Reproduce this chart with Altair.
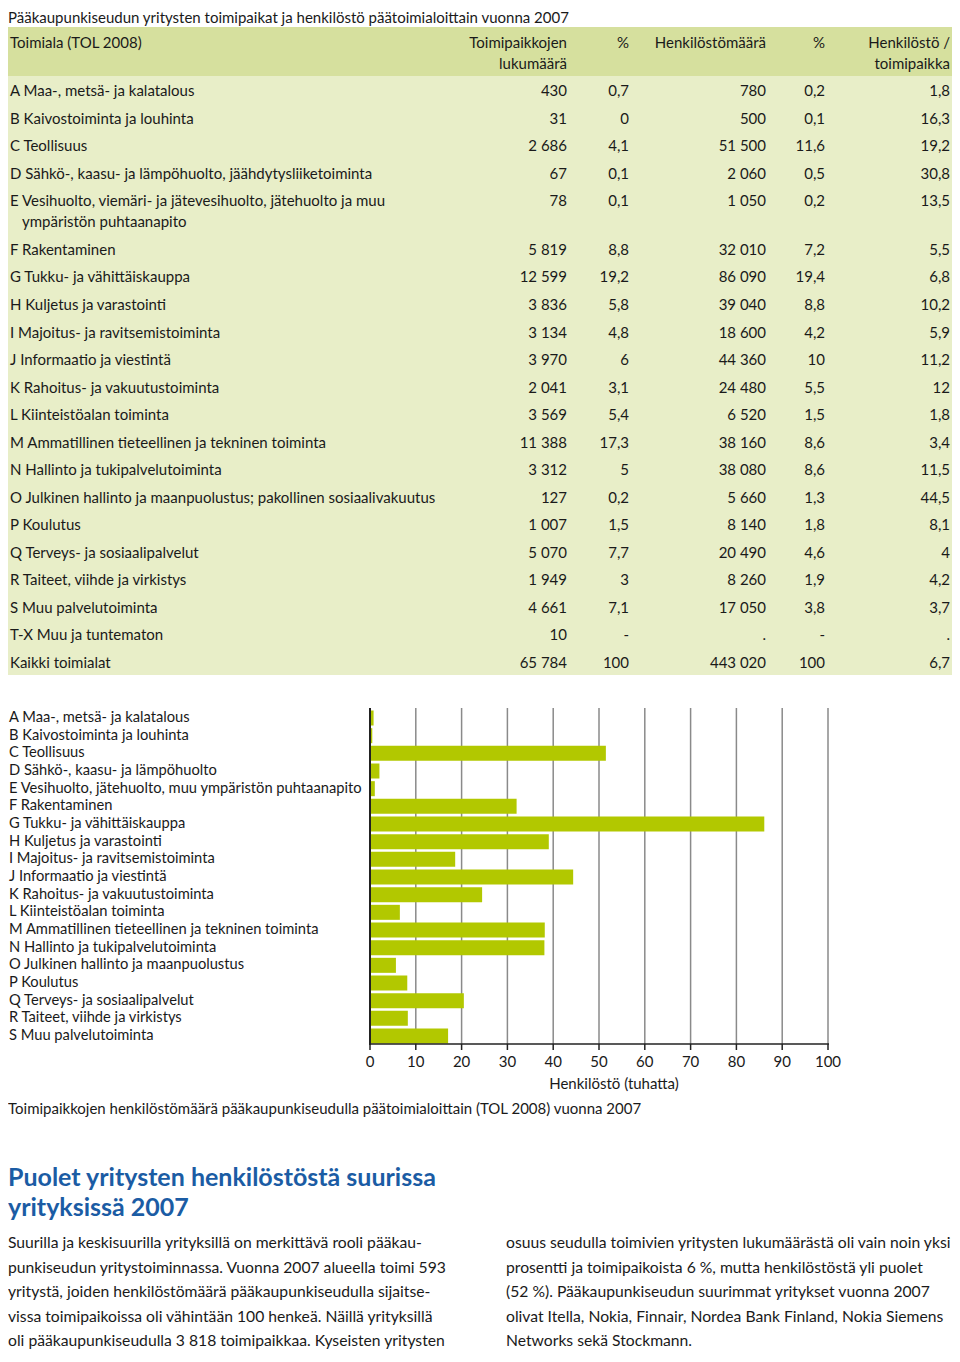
import altair as alt
import pandas as pd

# ---------------- data ----------------
title_text = "Pääkaupunkiseudun yritysten toimipaikat ja henkilöstö päätoimialoittain vuonna 2007"
header_labels = ["Toimiala (TOL 2008)", "Toimipaikkojen\nlukumäärä", "%",
                 "Henkilöstömäärä", "%", "Henkilöstö /\ntoimipaikka"]

table_categories = [
    "A Maa-, metsä- ja kalatalous",
    "B Kaivostoiminta ja louhinta",
    "C Teollisuus",
    "D Sähkö-, kaasu- ja lämpöhuolto, jäähdytysliiketoiminta",
    "E Vesihuolto, viemäri- ja jätevesihuolto, jätehuolto ja muu\nympäristön puhtaanapito",
    "F Rakentaminen",
    "G Tukku- ja vähittäiskauppa",
    "H Kuljetus ja varastointi",
    "I Majoitus- ja ravitsemistoiminta",
    "J Informaatio ja viestintä",
    "K Rahoitus- ja vakuutustoiminta",
    "L Kiinteistöalan toiminta",
    "M Ammatillinen tieteellinen ja tekninen toiminta",
    "N Hallinto ja tukipalvelutoiminta",
    "O Julkinen hallinto ja maanpuolustus; pakollinen sosiaalivakuutus",
    "P Koulutus",
    "Q Terveys- ja sosiaalipalvelut",
    "R Taiteet, viihde ja virkistys",
    "S Muu palvelutoiminta",
    "T-X Muu ja tuntematon",
    "Kaikki toimialat",
]
toimipaikat = [430, 31, 2686, 67, 78, 5819, 12599, 3836, 3134, 3970, 2041, 3569,
               11388, 3312, 127, 1007, 5070, 1949, 4661, 10, 65784]
toimipaikat_pct = [0.7, 0, 4.1, 0.1, 0.1, 8.8, 19.2, 5.8, 4.8, 6, 3.1, 5.4, 17.3, 5,
                   0.2, 1.5, 7.7, 3, 7.1, None, 100]
henkilosto = [780, 500, 51500, 2060, 1050, 32010, 86090, 39040, 18600, 44360, 24480,
              6520, 38160, 38080, 5660, 8140, 20490, 8260, 17050, None, 443020]
henkilosto_pct = [0.2, 0.1, 11.6, 0.5, 0.2, 7.2, 19.4, 8.8, 4.2, 10, 5.5, 1.5, 8.6,
                  8.6, 1.3, 1.8, 4.6, 1.9, 3.8, None, 100]
henk_per_toimipaikka = [1.8, 16.3, 19.2, 30.8, 13.5, 5.5, 6.8, 10.2, 5.9, 11.2, 12,
                        1.8, 3.4, 11.5, 44.5, 8.1, 4, 4.2, 3.7, None, 6.7]

bar_categories = [
    "A Maa-, metsä- ja kalatalous",
    "B Kaivostoiminta ja louhinta",
    "C Teollisuus",
    "D Sähkö-, kaasu- ja lämpöhuolto",
    "E Vesihuolto, jätehuolto, muu ympäristön puhtaanapito",
    "F Rakentaminen",
    "G Tukku- ja vähittäiskauppa",
    "H Kuljetus ja varastointi",
    "I Majoitus- ja ravitsemistoiminta",
    "J Informaatio ja viestintä",
    "K Rahoitus- ja vakuutustoiminta",
    "L Kiinteistöalan toiminta",
    "M Ammatillinen tieteellinen ja tekninen toiminta",
    "N Hallinto ja tukipalvelutoiminta",
    "O Julkinen hallinto ja maanpuolustus",
    "P Koulutus",
    "Q Terveys- ja sosiaalipalvelut",
    "R Taiteet, viihde ja virkistys",
    "S Muu palvelutoiminta",
]
x_ticks = [0, 10, 20, 30, 40, 50, 60, 70, 80, 90, 100]
x_title = "Henkilöstö (tuhatta)"
caption = "Toimipaikkojen henkilöstömäärä pääkaupunkiseudulla päätoimialoittain (TOL 2008) vuonna 2007"

heading_lines = ["Puolet yritysten henkilöstöstä suurissa", "yrityksissä 2007"]
para_left = [
    "Suurilla ja keskisuurilla yrityksillä on merkittävä rooli pääkau-",
    "punkiseudun yritystoiminnassa. Vuonna 2007 alueella toimi 593",
    "yritystä, joiden henkilöstömäärä pääkaupunkiseudulla sijaitse-",
    "vissa toimipaikoissa oli vähintään 100 henkeä. Näillä yrityksillä",
    "oli pääkaupunkiseudulla 3 818 toimipaikkaa. Kyseisten yritysten",
]
para_right = [
    "osuus seudulla toimivien yritysten lukumäärästä oli vain noin yksi",
    "prosentti ja toimipaikoista 6 %, mutta henkilöstöstä yli puolet",
    "(52 %). Pääkaupunkiseudun suurimmat yritykset vuonna 2007",
    "olivat Itella, Nokia, Finnair, Nordea Bank Finland, Nokia Siemens",
    "Networks sekä Stockmann.",
]

# ---------------- formatting helpers ----------------
def fmt_int(v, missing="."):
    if v is None:
        return missing
    return f"{int(v):,}".replace(",", " ")

def fmt_dec(v, missing="."):
    if v is None:
        return missing
    if float(v) == int(v):
        return str(int(v))
    return f"{v:.1f}".replace(".", ",")

WRAP = 0.77  # extra row slot taken by the wrapped line
slots, first_lines, cont_rows = [], [], []
extra = 0.0
for i, lab in enumerate(table_categories):
    parts = lab.split("\n")
    slots.append(i + extra)
    first_lines.append(parts[0])
    for k, p in enumerate(parts[1:], start=1):
        cont_rows.append({"slot": i + extra + WRAP * k, "label": p})
    extra += WRAP * (len(parts) - 1)

table_df = pd.DataFrame({
    "slot": slots,
    "label": first_lines,
    "c1": [fmt_int(v) for v in toimipaikat],
    "c2": [fmt_dec(v, "-") for v in toimipaikat_pct],
    "c3": [fmt_int(v, ".") for v in henkilosto],
    "c4": [fmt_dec(v, "-") for v in henkilosto_pct],
    "c5": [fmt_dec(v, ".") for v in henk_per_toimipaikka],
})
cont_df = pd.DataFrame(cont_rows)
bar_df = pd.DataFrame({"kat": bar_categories,
                       "henk": [v / 1000 for v in henkilosto[:len(bar_categories)]]})
tick_df = pd.DataFrame({"t": x_ticks})

# ---------------- style / layout ----------------
FONT = "Lato"
TXT = "#1a1a1a"
HEAD_BG = "#d6e09e"
BODY_BG = "#e8eec8"
BAR = "#b2c800"
FS = 15
W, H = 944, 1342
TOP = 7      # table block pushed down a little (page margin)

row_scale = alt.Scale(domain=[0, slots[-1]], range=[76 + TOP, 648 + TOP])
x_scale = alt.Scale(domain=[0, 100], range=[362, 820])
y_band = alt.Scale(domain=bar_categories, range=[701, 1037], paddingInner=0.15, paddingOuter=0.085)

one = pd.DataFrame({"a": [0]})
layers = []

# title
layers.append(alt.Chart(one).mark_text(
    align="left", baseline="alphabetic", fontSize=FS, font=FONT, color=TXT
).encode(x=alt.value(0), y=alt.value(15), text=alt.value(title_text)))

# table backgrounds
layers.append(alt.Chart(one).mark_rect(color=HEAD_BG).encode(
    x=alt.value(0), x2=alt.value(W), y=alt.value(12 + TOP), y2=alt.value(61 + TOP)))
layers.append(alt.Chart(one).mark_rect(color=BODY_BG).encode(
    x=alt.value(0), x2=alt.value(W), y=alt.value(61 + TOP), y2=alt.value(660 + TOP)))

# table header
col_x = [2, 559, 621, 758, 817, 942]
for lab, cx in zip(header_labels, col_x):
    layers.append(alt.Chart(one).mark_text(
        align="left" if cx == 2 else "right", baseline="alphabetic", fontSize=FS,
        font=FONT, color=TXT, lineBreak="\n", lineHeight=21
    ).encode(x=alt.value(cx), y=alt.value(33 + TOP), text=alt.value(lab)))

# table body
for field, cx in zip(["label", "c1", "c2", "c3", "c4", "c5"], col_x):
    layers.append(alt.Chart(table_df).mark_text(
        align="left" if field == "label" else "right", baseline="alphabetic", dy=5,
        fontSize=FS, font=FONT, color=TXT
    ).encode(x=alt.value(cx),
             y=alt.Y("slot:Q", scale=row_scale, axis=None),
             text=alt.Text(f"{field}:N")))
# wrapped continuation line (indented)
layers.append(alt.Chart(cont_df).mark_text(
    align="left", baseline="alphabetic", dy=5, fontSize=FS, font=FONT, color=TXT
).encode(x=alt.value(14), y=alt.Y("slot:Q", scale=row_scale, axis=None),
         text=alt.Text("label:N")))

# bar chart: grid
layers.append(alt.Chart(tick_df).transform_filter("datum.t > 0").mark_rule(
    color="#8a8a8a", strokeWidth=1.5
).encode(x=alt.X("t:Q", scale=x_scale, axis=None), y=alt.value(700), y2=alt.value(1036)))
# bars
layers.append(alt.Chart(bar_df).mark_bar(color=BAR).encode(
    x=alt.X("henk:Q", scale=x_scale, axis=None),
    y=alt.Y("kat:N", scale=y_band, axis=None, sort=bar_categories)))
# axis lines
layers.append(alt.Chart(one).mark_rule(color="#222222", strokeWidth=2).encode(
    x=alt.value(362), y=alt.value(700), y2=alt.value(1037)))
layers.append(alt.Chart(one).mark_rule(color="#222222", strokeWidth=1.5).encode(
    x=alt.value(361), x2=alt.value(821), y=alt.value(1036)))
# ticks
layers.append(alt.Chart(tick_df).mark_rule(color="#222222", strokeWidth=1.5).encode(
    x=alt.X("t:Q", scale=x_scale, axis=None), y=alt.value(1036), y2=alt.value(1042)))
# tick labels
layers.append(alt.Chart(tick_df).mark_text(
    baseline="middle", fontSize=FS, font=FONT, color=TXT
).encode(x=alt.X("t:Q", scale=x_scale, axis=None), y=alt.value(1054), text=alt.Text("t:Q")))
# axis title
layers.append(alt.Chart(one).mark_text(
    baseline="middle", fontSize=FS, font=FONT, color=TXT
).encode(x=alt.value(606), y=alt.value(1076), text=alt.value(x_title)))
# category labels
layers.append(alt.Chart(bar_df).mark_text(
    align="left", baseline="middle", fontSize=14.7, font=FONT, color=TXT
).encode(x=alt.value(1), y=alt.Y("kat:N", scale=y_band, axis=None, sort=bar_categories),
         text="kat:N"))
# caption
layers.append(alt.Chart(one).mark_text(
    align="left", baseline="middle", fontSize=FS, font=FONT, color=TXT
).encode(x=alt.value(0), y=alt.value(1101), text=alt.value(caption)))

# heading (two lines)
for k, line in enumerate(heading_lines):
    layers.append(alt.Chart(one).mark_text(
        align="left", baseline="alphabetic", fontSize=25, fontWeight="bold", font=FONT,
        color="#1b5ca4"
    ).encode(x=alt.value(0), y=alt.value(1178 + 30 * k), text=alt.value(line)))

# paragraphs
for lines, px in [(para_left, 0), (para_right, 498)]:
    layers.append(alt.Chart(one).mark_text(
        align="left", baseline="alphabetic", fontSize=15.7, font=FONT, color=TXT,
        lineBreak="\n", lineHeight=24.5
    ).encode(x=alt.value(px), y=alt.value(1240), text=alt.value("\n".join(lines))))

chart = alt.layer(*layers).resolve_scale(x="independent", y="independent").properties(
    width=W, height=H, autosize=alt.AutoSizeParams(type="none"), padding=0
).configure_view(stroke=None)

chart.save("out.html", embed_options={"renderer": "svg", "actions": False})
